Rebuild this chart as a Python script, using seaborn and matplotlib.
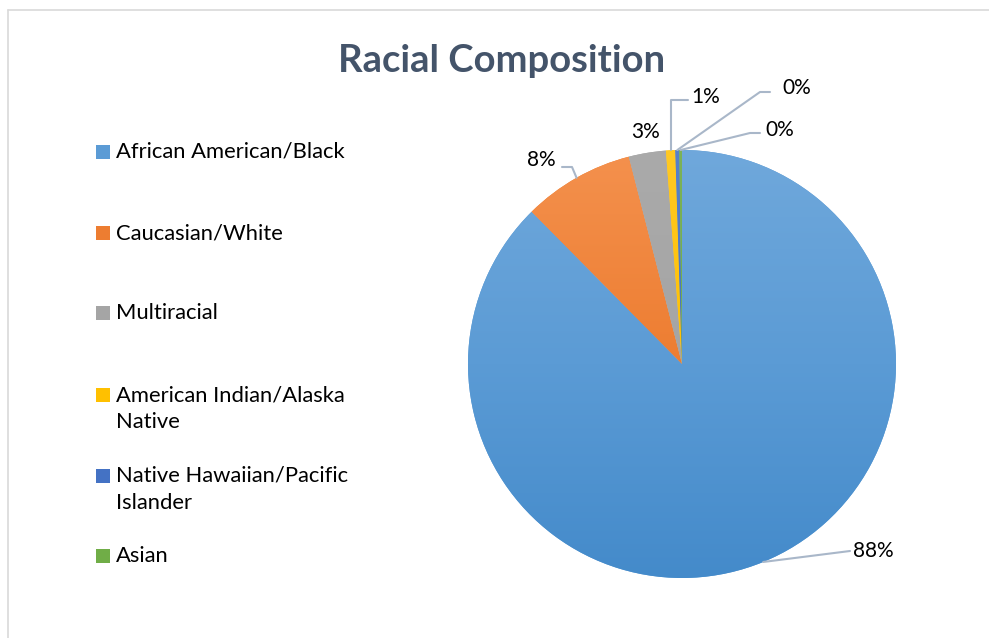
import colorsys
import numpy as np
import matplotlib
matplotlib.use("Agg")
import matplotlib.pyplot as plt
import matplotlib.colors as mcolors
from matplotlib.lines import Line2D
import seaborn as sns

# Racial composition shares (percent)
categories = [
    "African American/Black",
    "Caucasian/White",
    "Multiracial",
    "American Indian/Alaska\nNative",
    "Native Hawaiian/Pacific\nIslander",
    "Asian",
]
shares = [87.6, 8.4, 2.8, 0.7, 0.3, 0.2]
colors = ["#5B9BD5", "#ED7D31", "#A5A5A5", "#FFC000", "#4472C4", "#70AD47"]
title = "Racial Composition"

sns.set_theme(style="white")
plt.rcParams["font.family"] = ["Lato", "DejaVu Sans"]

W, H = 989, 638
fig = plt.figure(figsize=(W / 100, H / 100), dpi=100)
ax = fig.add_axes([0, 0, 1, 1])

cx, cy, r = 682, H - 364, 214
wedges, _ = ax.pie(
    shares,
    colors=colors,
    startangle=90,
    counterclock=False,
    radius=r,
    center=(cx, cy),
    frame=True,
    wedgeprops=dict(linewidth=0),
)


def tone(c, sat, val):
    h, s, v = colorsys.rgb_to_hsv(*mcolors.to_rgb(c))
    return np.array(colorsys.hsv_to_rgb(h, min(1, s * sat), min(1, v * val)))


# vertical gradient fill in each wedge (lighter at the top, richer at the bottom)
t = np.linspace(0, 1, 256)[:, None, None]
for w, c in zip(wedges, colors):
    top = tone(c, 0.86, 1.03)
    mid = np.array(mcolors.to_rgb(c))
    bot = tone(c, 1.16, 0.95)
    grad = np.where(t < 0.5,
                    top * (1 - 2 * t) + mid * (2 * t),
                    mid * (2 - 2 * t) + bot * (2 * t - 1))
    grad = np.repeat(grad, 2, axis=1)
    im = ax.imshow(grad, extent=(cx - r, cx + r, cy - r, cy + r), origin="upper",
                   aspect="auto", zorder=w.get_zorder() + 0.1, interpolation="bilinear")
    im.set_clip_path(w)

ax.set_xlim(0, W)
ax.set_ylim(0, H)
ax.set_aspect("equal")
ax.axis("off")

# data labels with leader lines
lead_col = "#A9B7C9"
labels = [f"{round(v):.0f}%" for v in shares]
cum = np.cumsum([0] + shares[:-1])
mids = [(c0 + v / 2) / 100 * 2 * np.pi for c0, v in zip(cum, shares)]


def rim(a):
    return cx + r * np.sin(a), cy + r * np.cos(a)


label_pos = [(873, 551), (541, 160), (646, 132), (706, 97), (797, 88), (780, 130)]
elbows = [(850, 551), (562, 167), None, (688, 100), (770, 92), (760, 133)]
for i, (lab, (lx, ly), elb) in enumerate(zip(labels, label_pos, elbows)):
    px, py = rim(mids[i])
    if elb is not None:
        ex, ey = elb
        if i == 0:
            xs, ys = [px, ex], [py, H - ey]
        elif i == 3:
            xs, ys = [px, px, ex], [py, H - ey, H - ey]
        elif i == 1:
            xs, ys = [px, ex + 10, ex], [py, H - ey, H - ey]
        else:
            xs, ys = [px, ex - 10, ex], [py, H - ey, H - ey]
        ax.add_line(Line2D(xs, ys, color=lead_col, lw=1.5, zorder=5))
    ax.text(lx, H - ly, lab, ha="center", va="center", fontsize=15, color="#000000", zorder=6)

# legend
leg_y = [152, 233, 313, 395, 476, 556]
line_gap = 27
for c, name, y in zip(colors, categories, leg_y):
    ax.add_patch(plt.Rectangle((96, H - y - 7), 14, 14, color=c, lw=0))
    for k, part in enumerate(name.split("\n")):
        ax.text(116, H - (y + k * line_gap), part, ha="left", va="center",
                fontsize=15.8, color="#000000")

ax.text(502, H - 61, title, ha="center", va="center", fontsize=27.5,
        fontweight="bold", color="#44546A")

# chart frame
ax.add_line(Line2D([8, W], [H - 10, H - 10], color="#D9D9D9", lw=1.2))
ax.add_line(Line2D([8, 8], [0, H - 10], color="#D9D9D9", lw=1.2))

fig.savefig("out.png", dpi=100, facecolor="white")
